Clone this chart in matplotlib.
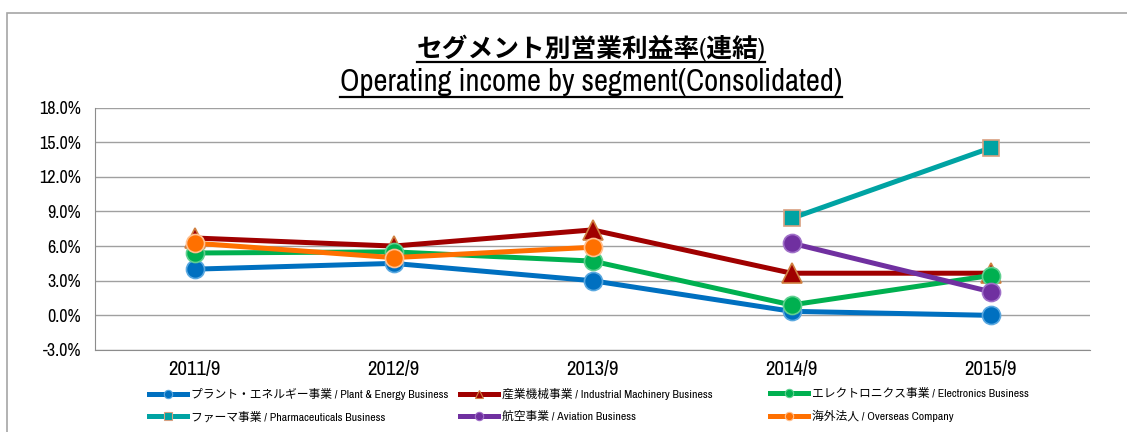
import numpy as np
import matplotlib
matplotlib.use("Agg")
import matplotlib.pyplot as plt
from matplotlib import font_manager as fm
from matplotlib.lines import Line2D
from matplotlib.patches import Rectangle

# data (operating margin, %)
years = ["2011/9", "2012/9", "2013/9", "2014/9", "2015/9"]
plant_energy = [4.0, 4.5, 3.0, 0.35, 0.0]
industrial = [6.7, 6.0, 7.4, 3.65, 3.65]
electronics = [5.4, 5.5, 4.7, 0.9, 3.45]
pharma = [np.nan, np.nan, np.nan, 8.4, 14.5]
aviation = [np.nan, np.nan, np.nan, 6.25, 2.05]
overseas = [6.25, 5.0, 5.9, np.nan, np.nan]

labels = [
    "プラント・エネルギー事業 / Plant & Energy Business",
    "産業機械事業 / Industrial Machinery Business",
    "エレクトロニクス事業 / Electronics Business",
    "ファーマ事業 / Pharmaceuticals Business",
    "航空事業 / Aviation Business",
    "海外法人 / Overseas Company",
]
yticks = [-3, 0, 3, 6, 9, 12, 15, 18]

have = {f.name for f in fm.fontManager.ttflist}
narrow = [n for n in ["Liberation Sans Narrow", "Archivo Narrow"] if n in have][:1]
FONT = narrow + ["Noto Sans CJK JP", "DejaVu Sans"]
plt.rcParams["font.family"] = FONT

fig = plt.figure(figsize=(11.27, 4.32), dpi=100)
W, H = 1127, 432

# outer chart border (runs off the right and bottom of the picture)
fig.patches.append(Rectangle((7 / W, -0.2), 1.2, (H - 13) / H + 0.2,
                             transform=fig.transFigure, fill=False,
                             edgecolor="#a6a6a6", lw=1.2))

ax = fig.add_axes([95 / W, (H - 350) / H, (1090 - 95) / W, (350 - 107.5) / H])

series = [
    (plant_energy, "#0070C0", "o", 13, "#5aa8e0"),
    (industrial, "#A00000", "^", 14, "#d08040"),
    (electronics, "#00B050", "o", 13, "#60d090"),
    (pharma, "#00A3A3", "s", 11, "#d8a080"),
    (aviation, "#7030A0", "o", 13, "#a070c8"),
    (overseas, "#FF7000", "o", 13, "#ffc090"),
]
x = np.arange(len(years))
handles = []
for (vals, col, mk, ms, edge), lab in zip(series, labels):
    ax.plot(x, vals, color=col, lw=3.6, marker=mk, markersize=ms,
            markerfacecolor=col, markeredgecolor=edge, markeredgewidth=1.2,
            solid_capstyle="round", label=lab)
    handles.append(Line2D([], [], color=col, lw=3.6, marker=mk, markersize=6,
                          markerfacecolor=col, markeredgecolor=edge,
                          markeredgewidth=0.8))

ax.set_xlim(-0.5, len(years) - 0.5)
ax.set_ylim(-3, 18)
ax.set_yticks(yticks)
ax.set_yticklabels([f"{v:.1f}%" for v in yticks], fontsize=13)
ax.set_xticks(x)
ax.set_xticklabels(years, fontsize=15)
ax.tick_params(axis="y", length=0, pad=10)
ax.tick_params(axis="x", length=0, pad=7)
ax.grid(axis="y", color="#a0a0a0", lw=1)
ax.set_axisbelow(True)
for s in ["top", "right"]:
    ax.spines[s].set_visible(False)
ax.spines["left"].set_color("#8c8c8c")
ax.spines["bottom"].set_color("#8c8c8c")

# legend: three equal-width columns, two rows (filled row by row)
col_x = [143, 454, 764]
for c, cx in enumerate(col_x):
    idx = [c, c + 3]
    fig.legend([handles[i] for i in idx], [labels[i] for i in idx],
               loc="center left", bbox_to_anchor=(cx / W, (H - 405) / H),
               frameon=False, fontsize=8.5, handlelength=3.2,
               handletextpad=0.4, labelspacing=0.95, borderpad=0)

t1 = fig.text(591 / W, (H - 48) / H, "セグメント別営業利益率(連結)", ha="center",
              va="center", fontsize=18.5, fontweight="bold")
t2 = fig.text(591 / W, (H - 82) / H, "Operating income by segment(Consolidated)",
              ha="center", va="center", fontsize=22)

# underline the two title lines
fig.canvas.draw()
r = fig.canvas.get_renderer()
for t in [t1, t2]:
    bb = t.get_window_extent(r)
    yy = (bb.y0 - 1) / H
    fig.add_artist(Line2D([bb.x0 / W, bb.x1 / W], [yy, yy], color="black",
                          lw=1.6, transform=fig.transFigure))

fig.savefig("out.png", dpi=100)
